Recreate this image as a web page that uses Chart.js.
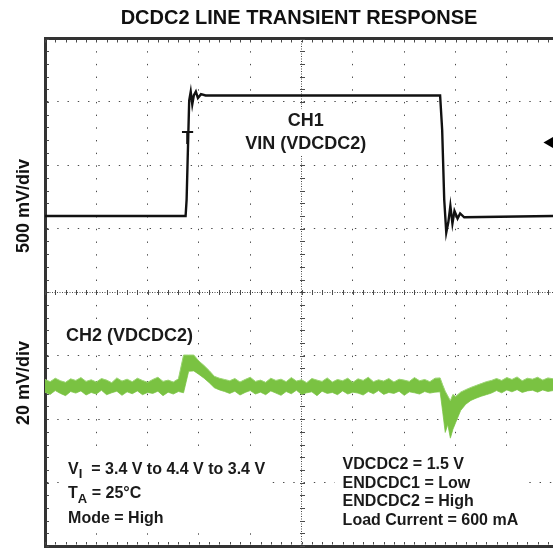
<!DOCTYPE html>
<html><head><meta charset="utf-8">
<script src="https://cdn.jsdelivr.net/npm/chart.js@4.4.1/dist/chart.umd.min.js"></script>
<style>html,body{margin:0;padding:0;background:#fff;overflow:hidden}#wrap{width:553px;height:548px}</style>
</head><body><div id="wrap"><canvas id="c" width="553" height="548"></canvas></div>
<script>
// ---- data (time in divisions) ----
const titleText = 'DCDC2 LINE TRANSIENT RESPONSE';
const yAxisLabels = ['500 mV/div', '20 mV/div'];
const ch1Label = ['CH1', 'VIN (VDCDC2)'];
const ch2Label = 'CH2 (VDCDC2)';
const conditionsRight = ['VDCDC2 = 1.5 V', 'ENDCDC1 = Low', 'ENDCDC2 = High', 'Load Current = 600 mA'];
const conditionsLeft = [
  [['V', ''], ['I', 'sub'], ['  = 3.4 V to 4.4 V to 3.4 V', '']],
  [['T', ''], ['A', 'sub'], [' = 25°C', '']],
  [['Mode = High', '']]
];

// CH1: VIN, volts
const ch1Time  = [0, 2.74, 2.76, 2.79, 2.81, 2.84, 2.87, 2.90, 2.94, 2.98, 3.04, 3.13, 7.70, 7.74, 7.78, 7.82, 7.86, 7.90, 7.94, 7.98, 8.04, 8.09, 8.17, 9.9];
const ch1Volts = [3.40, 3.40, 3.53, 4.00, 4.31, 4.38, 4.28, 4.35, 4.38, 4.33, 4.36, 4.35, 4.35, 4.08, 3.53, 3.27, 3.35, 3.48, 3.34, 3.44, 3.38, 3.42, 3.39, 3.40];

// CH2: VDCDC2 deviation from 1.5 V, mV (upper / lower edge of the noisy trace)
const ch2Time = [0,0.1,0.2,0.3,0.4,0.5,0.6,0.7,0.8,0.9,1,1.1,1.2,1.3,1.4,1.5,1.6,1.7,1.8,1.9,2,2.1,2.2,2.3,2.4,2.5,2.6,
  2.7,2.8,2.9,3,3.1,3.2,3.3,3.4,3.5,
  3.6,3.7,3.8,3.9,4,4.1,4.2,4.3,4.4,4.5,4.6,4.7,4.8,4.9,5,5.1,5.2,5.3,5.4,5.5,5.6,5.7,5.8,5.9,6,6.1,6.2,6.3,6.4,6.5,6.6,6.7,6.8,6.9,7,7.1,7.2,7.3,7.4,7.5,7.6,
  7.7,7.75,7.8,7.85,7.9,7.95,8,8.1,8.2,8.3,8.4,8.5,8.6,8.7,
  8.8,8.9,9,9.1,9.2,9.3,9.4,9.5,9.6,9.7,9.8,9.9];
const ch2Upper = [2.2,1.5,2.6,1.8,1.3,2.4,1.9,2.8,1.6,2.1,1.4,2.5,2.0,1.2,2.7,1.7,2.3,1.5,2.6,1.9,1.3,2.2,2.9,1.6,2.0,1.4,2.4,
  9.9,9.9,9.9,8.0,6.6,5.0,3.2,2.6,2.2,
  1.8,2.5,1.4,2.2,2.9,1.6,2.0,1.3,2.6,1.9,2.3,1.5,2.8,1.7,2.1,1.2,2.5,2.0,1.6,2.7,1.4,2.2,1.8,2.6,1.3,2.4,1.9,2.9,1.5,2.1,1.7,2.5,1.4,2.3,2.0,1.6,2.8,1.8,2.2,1.5,2.6,
  2.7,0.5,-1.5,-3.0,-4.5,-2.5,-3.2,-1.8,-1.0,-0.3,0.3,0.9,1.5,1.9,
  2.5,1.9,2.8,2.2,3.0,1.8,2.6,2.3,2.9,2.0,2.7,2.4];
const ch2Lower = [-1.8,-2.5,-1.3,-2.2,-2.9,-1.6,-2.1,-1.4,-2.7,-1.9,-2.4,-1.2,-2.6,-2.0,-1.5,-2.8,-1.7,-2.3,-1.4,-2.6,-1.9,-2.2,-1.5,-2.9,-1.8,-2.4,-1.6,
  -2.0,4.8,4.9,3.8,2.6,1.2,-0.4,-1.1,-1.6,
  -2.2,-1.5,-2.7,-1.9,-1.3,-2.4,-1.8,-2.6,-1.4,-2.1,-2.8,-1.6,-2.3,-1.2,-2.5,-2.0,-1.7,-2.9,-1.5,-2.2,-1.9,-2.6,-1.4,-2.4,-1.8,-2.1,-2.7,-1.6,-2.3,-1.3,-2.5,-1.9,-2.2,-1.5,-2.8,-1.7,-2.0,-2.4,-1.6,-2.1,-1.8,
  -1.7,-8.0,-14.5,-12.0,-16.3,-13.5,-11.5,-7.6,-5.6,-4.4,-3.7,-3.1,-2.6,-2.1,
  -1.3,-2.0,-1.1,-1.7,-1.0,-1.9,-1.4,-1.2,-1.8,-1.1,-1.6,-1.3];

const triggerTime = [9.86];
const triggerVolts = [3.98];
const trigMarkTime = 2.78, trigMarkVolts = 4.01;

// ---- chart ----
const FONT = '"Liberation Sans", Arial, Helvetica, sans-serif';
const GREEN = 'rgb(122,194,66)';
const GREEN_EDGE = 'rgb(154,212,114)';
const DOT = '#4a4a4a';

const toXY = (xs, ys) => xs.map((t, i) => ({x: t, y: ys[i]}));

function subFont(font) { return font.replace(/\d+px/, m => Math.round(parseInt(m) * 0.8) + 'px'); }

function drawBoxText(ctx, lines, x, y0, lh, font, align, padX, padY) {
  let maxW = 0;
  const ws = lines.map(parts => {
    let w = 0;
    parts.forEach(([s, kind]) => {
      ctx.font = kind === 'sub' ? subFont(font) : font;
      w += ctx.measureText(s).width;
    });
    maxW = Math.max(maxW, w);
    return w;
  });
  const size = parseInt(font.match(/(\d+)px/)[1]);
  const left = align === 'center' ? x - maxW / 2 : x;
  ctx.fillStyle = '#fff';
  ctx.fillRect(left - padX, y0 - size * 0.6 - padY, maxW + 2 * padX, lh * (lines.length - 1) + size * 1.2 + 2 * padY);
  ctx.fillStyle = '#1a1a1a';
  ctx.textBaseline = 'middle';
  ctx.textAlign = 'left';
  lines.forEach((parts, i) => {
    let cx = align === 'center' ? x - ws[i] / 2 : x;
    const cy = y0 + i * lh;
    parts.forEach(([s, kind]) => {
      if (kind === 'sub') {
        ctx.font = subFont(font);
        ctx.fillText(s, cx, cy + size * 0.35);
      } else {
        ctx.font = font;
        ctx.fillText(s, cx, cy);
      }
      cx += ctx.measureText(s).width;
    });
  });
}

const scopeDecor = {
  id: 'scopeDecor',
  beforeDatasetsDraw(chart) {
    const {ctx, chartArea: a, scales: {x, y}} = chart;
    ctx.save();
    ctx.strokeStyle = DOT; ctx.lineWidth = 1;
    const cx = Math.round(x.getPixelForValue(5)) + 0.5, cy = Math.round(y.getPixelForValue(0)) + 0.5;
    ctx.beginPath();
    for (let k = 0; k <= 49; k++) {
      const px = Math.round(x.getPixelForValue(k * 0.2)) + 0.5;
      ctx.moveTo(px, a.top + 1.5); ctx.lineTo(px, a.top + 4);
      ctx.moveTo(px, a.bottom - 1.5); ctx.lineTo(px, a.bottom - 4);
      ctx.moveTo(px, cy - 2.5); ctx.lineTo(px, cy + 2.5);
    }
    for (let k = 0; k <= 40; k++) {
      const py = Math.round(y.getPixelForValue(-4 + k * 0.2)) + 0.5;
      ctx.moveTo(a.left + 1.5, py); ctx.lineTo(a.left + 4, py);
      ctx.moveTo(cx - 2.5, py); ctx.lineTo(cx + 2.5, py);
    }
    ctx.stroke();
    ctx.restore();
  },
  afterDatasetsDraw(chart) {
    const {ctx, chartArea: a, scales: {x, y, yV}} = chart;
    ctx.save();
    const f18 = 'bold 18px ' + FONT, f16 = 'bold 16px ' + FONT;
    drawBoxText(ctx, ch1Label.map(s => [[s, '']]), x.getPixelForValue(5.08), y.getPixelForValue(2.70), 23, f18, 'center', 3, 1);
    drawBoxText(ctx, [[[ch2Label, '']]], x.getPixelForValue(0.41), y.getPixelForValue(-0.69), 20, f18, 'left', 3, 2);
    drawBoxText(ctx, conditionsLeft, x.getPixelForValue(0.45), y.getPixelForValue(-2.79), 24.5, f16, 'left', 6, 5);
    drawBoxText(ctx, conditionsRight.map(s => [[s, '']]), x.getPixelForValue(5.80), y.getPixelForValue(-2.72), 18.6, f16, 'left', 8, 6);
    // trigger position mark
    ctx.font = 'bold 19px ' + FONT; ctx.fillStyle = '#111'; ctx.textAlign = 'center'; ctx.textBaseline = 'middle';
    ctx.fillText('T', x.getPixelForValue(trigMarkTime), yV.getPixelForValue(trigMarkVolts));
    // channel scale labels
    ctx.font = 'bold 18px ' + FONT;
    [[yAxisLabels[0], 1.36], [yAxisLabels[1], -1.43]].forEach(([s, v]) => {
      ctx.save();
      ctx.translate(a.left - 21, y.getPixelForValue(v));
      ctx.rotate(-Math.PI / 2);
      ctx.fillText(s, 0, 0);
      ctx.restore();
    });
    ctx.restore();
  }
};

function gridDash(axisDivs, centre, alongLen) {
  return (c) => {
    const area = c.chart.chartArea;
    if (!area || !c.tick) return [];
    if (Math.abs(c.tick.value - centre) < 1e-6) return [1, 1.5];
    const step = alongLen(area) / axisDivs;
    return [1.4, step - 1.4];
  };
}

new Chart(document.getElementById('c'), {
  type: 'line',
  data: {
    datasets: [
      {label: 'CH2 upper', data: toXY(ch2Time, ch2Upper), yAxisID: 'yMv', borderColor: GREEN_EDGE, backgroundColor: GREEN, borderWidth: 1, pointRadius: 0, fill: '+1', tension: 0},
      {label: 'CH2 lower', data: toXY(ch2Time, ch2Lower), yAxisID: 'yMv', borderColor: GREEN_EDGE, borderWidth: 1, pointRadius: 0, fill: false, tension: 0},
      {label: 'CH1', data: toXY(ch1Time, ch1Volts), yAxisID: 'yV', borderColor: '#111', borderWidth: 2.4, pointRadius: 0, fill: false, tension: 0},
      {label: 'Trigger level', type: 'scatter', data: toXY(triggerTime, triggerVolts), yAxisID: 'yV', pointStyle: 'triangle', rotation: 270, pointRadius: 7.5, backgroundColor: '#000', borderColor: '#000', borderWidth: 0, clip: false}
    ]
  },
  options: {
    responsive: false,
    devicePixelRatio: 1,
    animation: false,
    events: [],
    layout: {autoPadding: false, padding: {left: 45, right: 0, top: 0, bottom: 2}},
    plugins: {
      legend: {display: false},
      tooltip: {enabled: false},
      title: {display: true, text: titleText, fullSize: false, color: '#111',
        font: {family: FONT, size: 20, weight: 'bold'}, padding: {top: 6, bottom: 8.5}}
    },
    scales: {
      x: {type: 'linear', min: 0, max: 9.9, position: 'bottom',
        ticks: {display: false, stepSize: 1, includeBounds: false},
        grid: {color: DOT, lineWidth: 1, drawTicks: false},
        border: {display: true, width: 3, color: '#333', dash: gridDash(40, 5, a => a.bottom - a.top)}},
      xTop: {type: 'linear', min: 0, max: 9.9, position: 'top',
        ticks: {display: false}, grid: {display: false, drawTicks: false},
        border: {display: true, width: 3, color: '#333'}},
      y: {type: 'linear', min: -4, max: 4, position: 'left',
        ticks: {display: false, stepSize: 1},
        grid: {color: DOT, lineWidth: 1, drawTicks: false},
        border: {display: true, width: 3, color: '#333', dash: gridDash(49.5, 0, a => a.right - a.left)}},
      yV: {type: 'linear', display: false, min: 0.799, max: 4.799},
      yMv: {type: 'linear', display: false, min: -50.3, max: 109.7}
    }
  },
  plugins: [scopeDecor]
});
</script>
</body></html>
